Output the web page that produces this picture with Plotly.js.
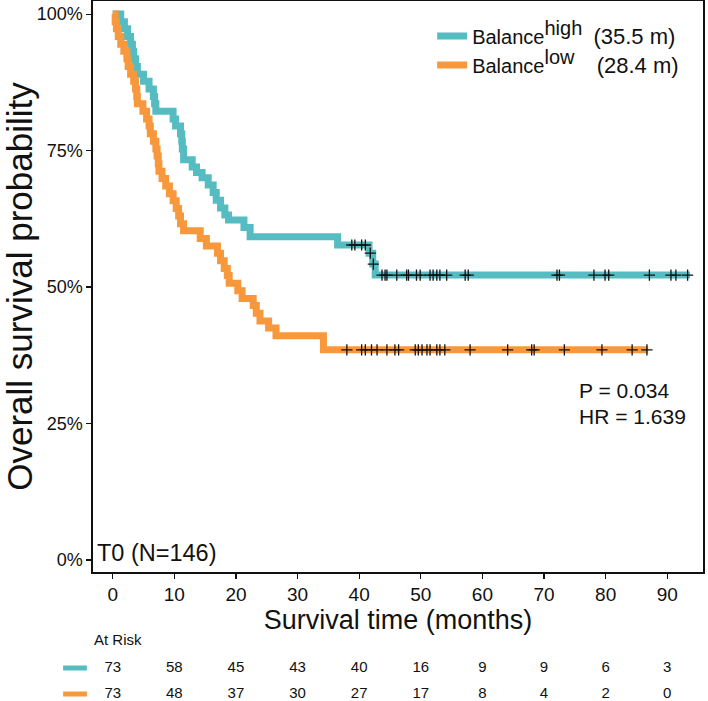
<!DOCTYPE html>
<html>
<head>
<meta charset="utf-8">
<script src="https://cdn.plot.ly/plotly-3.0.1.min.js"></script>
<style>html,body{margin:0;padding:0;background:#fff}#chart{width:708px;height:701px}</style>
</head>
<body>
<div id="chart"></div>
<script>
// Kaplan-Meier step points (months, survival probability)
const highTime = [0, 1.3, 1.9, 2.4, 2.9, 3.2, 3.4, 3.7, 4.0, 5.0, 5.9, 6.6, 6.8, 7.0, 9.8, 10.2, 11.0, 11.2, 11.3, 11.5, 12.9, 13.6, 14.5, 15.5, 16.3, 16.8, 17.5, 18.2, 18.8, 21.3, 22.3, 36.5, 41.6, 42.2, 42.6, 93.7];
const highSurv = [1.0, 0.986, 0.973, 0.959, 0.945, 0.932, 0.918, 0.904, 0.890, 0.877, 0.863, 0.849, 0.836, 0.822, 0.808, 0.795, 0.781, 0.767, 0.753, 0.733, 0.720, 0.710, 0.700, 0.687, 0.673, 0.659, 0.645, 0.632, 0.623, 0.609, 0.592, 0.577, 0.562, 0.542, 0.522, 0.522];
const lowTime = [0, 0.4, 0.6, 0.9, 1.3, 1.8, 2.3, 2.5, 2.9, 3.4, 3.7, 3.9, 4.0, 4.9, 5.5, 5.9, 6.1, 6.6, 7.0, 7.2, 7.4, 7.5, 8.0, 8.6, 9.2, 9.8, 10.3, 10.7, 11.0, 11.5, 14.2, 15.2, 17.0, 17.5, 18.1, 18.6, 18.9, 20.3, 21.0, 22.8, 23.3, 23.9, 25.3, 26.5, 34.2, 86.9];
const lowSurv = [1.0, 0.986, 0.973, 0.959, 0.945, 0.932, 0.918, 0.904, 0.890, 0.877, 0.863, 0.849, 0.836, 0.822, 0.808, 0.795, 0.781, 0.767, 0.753, 0.740, 0.726, 0.712, 0.699, 0.685, 0.671, 0.658, 0.644, 0.630, 0.616, 0.603, 0.589, 0.575, 0.562, 0.548, 0.534, 0.521, 0.507, 0.493, 0.479, 0.466, 0.452, 0.438, 0.425, 0.411, 0.385, 0.385];
// Censoring times (months)
const highCensor = [38.8, 39.3, 40.4, 41.0, 41.8, 42.3, 43.7, 44.2, 44.5, 46.1, 47.7, 48.0, 49.3, 49.9, 51.5, 52.0, 52.6, 53.1, 54.2, 57.2, 57.7, 72.1, 72.5, 78.1, 79.9, 80.5, 87.1, 90.6, 91.4, 93.3];
const lowCensor = [38.0, 40.4, 41.0, 42.0, 42.9, 44.5, 45.8, 46.4, 49.1, 49.6, 50.2, 51.0, 51.5, 52.6, 53.1, 53.9, 58.0, 64.1, 68.0, 68.4, 73.3, 79.4, 84.3, 86.7];
// Numbers at risk
const riskTimes = [0, 10, 20, 30, 40, 50, 60, 70, 80, 90];
const riskHigh = [73, 58, 45, 43, 40, 16, 9, 9, 6, 3];
const riskLow = [73, 48, 37, 30, 27, 17, 8, 4, 2, 0];
const xTicks = [0, 10, 20, 30, 40, 50, 60, 70, 80, 90];
const yTicks = [0, 0.25, 0.5, 0.75, 1];
const yTickText = ['0%', '25%', '50%', '75%', '100%'];

const teal = '#55BCC2';
const orange = '#F7983D';
const FONT = 'Liberation Sans, Arial, Helvetica, sans-serif';

function survAt(times, surv, t) {
  let s = surv[0];
  for (let i = 0; i < times.length; i++) { if (times[i] <= t) s = surv[i]; }
  return s;
}

const censorMarker = {symbol: 'cross-thin-open', size: 8, color: '#111', line: {color: '#111', width: 1.3}};

const traces = [
  {x: highTime, y: highSurv, type: 'scatter', mode: 'lines', line: {shape: 'hv', color: teal, width: 7},
   name: "Balance<sup><span style='font-size:20px'>high</span></sup>  <span style='font-size:22px'>(35.5 m)</span>", legendgroup: 'a', xaxis: 'x', yaxis: 'y'},
  {x: lowTime, y: lowSurv, type: 'scatter', mode: 'lines', line: {shape: 'hv', color: orange, width: 7},
   name: "Balance<sup><span style='font-size:20px'>low</span></sup>    <span style='font-size:22px'>(28.4 m)</span>", legendgroup: 'b', xaxis: 'x', yaxis: 'y'},
  {x: highCensor, y: highCensor.map(t => survAt(highTime, highSurv, t)), type: 'scatter', mode: 'markers',
   marker: censorMarker, showlegend: false, xaxis: 'x', yaxis: 'y'},
  {x: lowCensor, y: lowCensor.map(t => survAt(lowTime, lowSurv, t)), type: 'scatter', mode: 'markers',
   marker: censorMarker, showlegend: false, xaxis: 'x', yaxis: 'y'},
  {x: riskTimes, y: riskTimes.map(() => 1), text: riskHigh.map(String), type: 'scatter', mode: 'text',
   textfont: {family: FONT, size: 15, color: '#111'}, showlegend: false, xaxis: 'x', yaxis: 'y2', cliponaxis: false, hoverinfo: 'skip'},
  {x: riskTimes, y: riskTimes.map(() => 0), text: riskLow.map(String), type: 'scatter', mode: 'text',
   textfont: {family: FONT, size: 15, color: '#111'}, showlegend: false, xaxis: 'x', yaxis: 'y2', cliponaxis: false, hoverinfo: 'skip'}
];

const layout = {
  width: 708, height: 701,
  margin: {l: 93, r: 5, t: 1, b: 1},
  paper_bgcolor: '#fff', plot_bgcolor: '#fff',
  font: {family: FONT, color: '#111'},
  showlegend: true,
  legend: {x: 0.556, y: 0.978, xanchor: 'left', yanchor: 'top', bgcolor: 'rgba(0,0,0,0)', tracegroupgap: 0,
           font: {family: FONT, size: 20, color: '#111'}, itemwidth: 30},
  xaxis: {range: [-3.2, 95.8], tickvals: xTicks, ticktext: xTicks.map(String), ticks: 'outside', ticklen: 5,
          tickcolor: '#111', tickwidth: 1.2, showline: true, linecolor: '#111', linewidth: 1.6, mirror: true,
          showgrid: false, zeroline: false, anchor: 'y',
          tickfont: {family: FONT, size: 19, color: '#111'},
          title: {text: 'Survival time (months)', font: {family: FONT, size: 27, color: '#111'}, standoff: 2}},
  yaxis: {domain: [0.1831, 1], range: [-0.022, 1.024], tickvals: yTicks, ticktext: yTickText, ticks: 'outside',
          ticklen: 5, tickcolor: '#111', tickwidth: 1.2, showline: true, linecolor: '#111', linewidth: 1.6,
          mirror: true, showgrid: false, zeroline: false,
          tickfont: {family: FONT, size: 18, color: '#111'},
          title: {text: 'Overall survival probability', font: {family: FONT, size: 35, color: '#111'}, standoff: 2}},
  yaxis2: {domain: [0, 0.1], range: [-0.231, 2.458], visible: false, showgrid: false, zeroline: false, fixedrange: true},
  shapes: [
    {type: 'line', xref: 'paper', yref: 'y2', x0: -0.049, x1: -0.01, y0: 1, y1: 1, line: {color: teal, width: 5}},
    {type: 'line', xref: 'paper', yref: 'y2', x0: -0.049, x1: -0.01, y0: 0, y1: 0, line: {color: orange, width: 5}}
  ],
  annotations: [
    {xref: 'paper', yref: 'y', x: 0.003, y: -0.014, xanchor: 'left', yanchor: 'bottom', showarrow: false,
     text: 'T0 (N=146)', font: {family: FONT, size: 23.5, color: '#111'}},
    {xref: 'x', yref: 'y', x: 75.3, y: 0.31, xanchor: 'left', yanchor: 'middle', showarrow: false,
     text: 'P = 0.034', font: {family: FONT, size: 21, color: '#111'}},
    {xref: 'x', yref: 'y', x: 75.3, y: 0.262, xanchor: 'left', yanchor: 'middle', showarrow: false,
     text: 'HR = 1.639', font: {family: FONT, size: 21, color: '#111'}},
    {xref: 'paper', yref: 'y2', x: -0.002, y: 2.08, xanchor: 'left', yanchor: 'middle', showarrow: false,
     text: 'At Risk', font: {family: FONT, size: 15, color: '#111'}}
  ]
};

Plotly.newPlot('chart', traces, layout, {displayModeBar: false, staticPlot: true});
</script>
</body>
</html>
